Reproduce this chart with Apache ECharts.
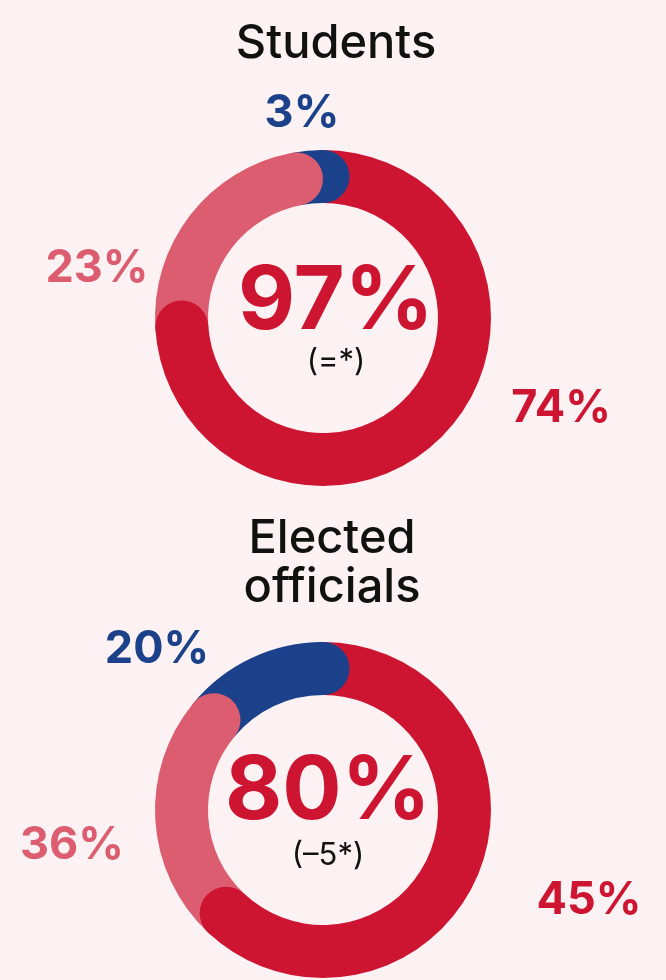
<!DOCTYPE html>
<html>
<head>
<meta charset="utf-8">
<script src="https://cdn.jsdelivr.net/npm/echarts@6/dist/echarts.min.js"></script>
<style>
  html, body { margin: 0; padding: 0; background: #fcf2f4; }
  #chart { width: 666px; height: 980px; }
</style>
</head>
<body>
<div id="chart"></div>
<script>
// shares of the ring, clockwise from 12 o'clock
const segments = ['main', 'second', 'other']
const studentsArcs = [74, 23, 3]
const electedArcs = [62, 24, 14]
// printed labels
const studentsLabels = ['74%', '23%', '3%']
const electedLabels = ['45%', '36%', '20%']
const studentsTotal = '97%'
const electedTotal = '80%'
const studentsChange = '(=*)'
const electedChange = '(\u20135*)'

const colors = ['#cd1532', '#dc5d70', '#1b418a']
const font = 'Inter, "Open Sans", sans-serif'

function cumulative(arr) {
  let s = 0
  return arr.map(v => (s += v))
}

function donutSeries(polarIndex, arcs) {
  const series = []
  // ring bodies, flat ends
  arcs.forEach((v, i) => {
    series.push({
      name: segments[i],
      type: 'bar',
      coordinateSystem: 'polar',
      polarIndex: polarIndex,
      stack: 'ring' + polarIndex,
      barWidth: '100%',
      barCategoryGap: '0%',
      data: [v],
      itemStyle: { color: colors[i] },
      silent: true,
      z: 2
    })
  })
  // round end caps at the end of each segment (blue lowest, red on top)
  const ends = cumulative(arcs)
  const capZ = [6, 5, 4]
  ends.forEach((e, i) => {
    series.push({
      type: 'scatter',
      coordinateSystem: 'polar',
      polarIndex: polarIndex,
      symbol: 'circle',
      symbolSize: 53,
      data: [[0, e]],
      itemStyle: { color: colors[i], opacity: 1 },
      silent: true,
      z: capZ[i]
    })
  })
  return series
}

function txt(x, y, text, size, color, weight) {
  return {
    type: 'text',
    x: x,
    y: y,
    style: {
      text: text,
      fill: color,
      font: (weight || 'bold') + ' ' + size + 'px ' + font,
      textAlign: 'center',
      textVerticalAlign: 'middle'
    },
    silent: true
  }
}

const chart = echarts.init(document.getElementById('chart'))
chart.setOption({
  backgroundColor: '#fcf2f4',
  animation: false,
  polar: [
    { center: [323, 318], radius: [115, 168] },
    { center: [323, 810], radius: [115, 168] }
  ],
  angleAxis: [
    { polarIndex: 0, min: 0, max: 100, startAngle: 90, show: false },
    { polarIndex: 1, min: 0, max: 100, startAngle: 90, show: false }
  ],
  radiusAxis: [
    { polarIndex: 0, type: 'category', data: ['ring'], show: false },
    { polarIndex: 1, type: 'category', data: ['ring'], show: false }
  ],
  series: donutSeries(0, studentsArcs).concat(donutSeries(1, electedArcs)),
  graphic: [
    txt(336, 44, 'Students', 47, '#111', '500'),
    txt(302, 113, studentsLabels[2], 45, colors[2]),
    txt(97, 268, studentsLabels[1], 45, colors[1]),
    txt(561, 408, studentsLabels[0], 45, colors[0]),
    txt(336, 303, studentsTotal, 88, colors[0]),
    txt(336, 362, studentsChange, 31, '#111', 'normal'),

    txt(332, 539, 'Elected', 47, '#111', '500'),
    txt(332, 588, 'officials', 47, '#111', '500'),
    txt(157, 649, electedLabels[2], 45, colors[2]),
    txt(72, 845, electedLabels[1], 45, colors[1]),
    txt(589, 900, electedLabels[0], 45, colors[0]),
    txt(328, 793, electedTotal, 88, colors[0]),
    txt(328, 856, electedChange, 31, '#111', 'normal')
  ]
})
</script>
</body>
</html>
